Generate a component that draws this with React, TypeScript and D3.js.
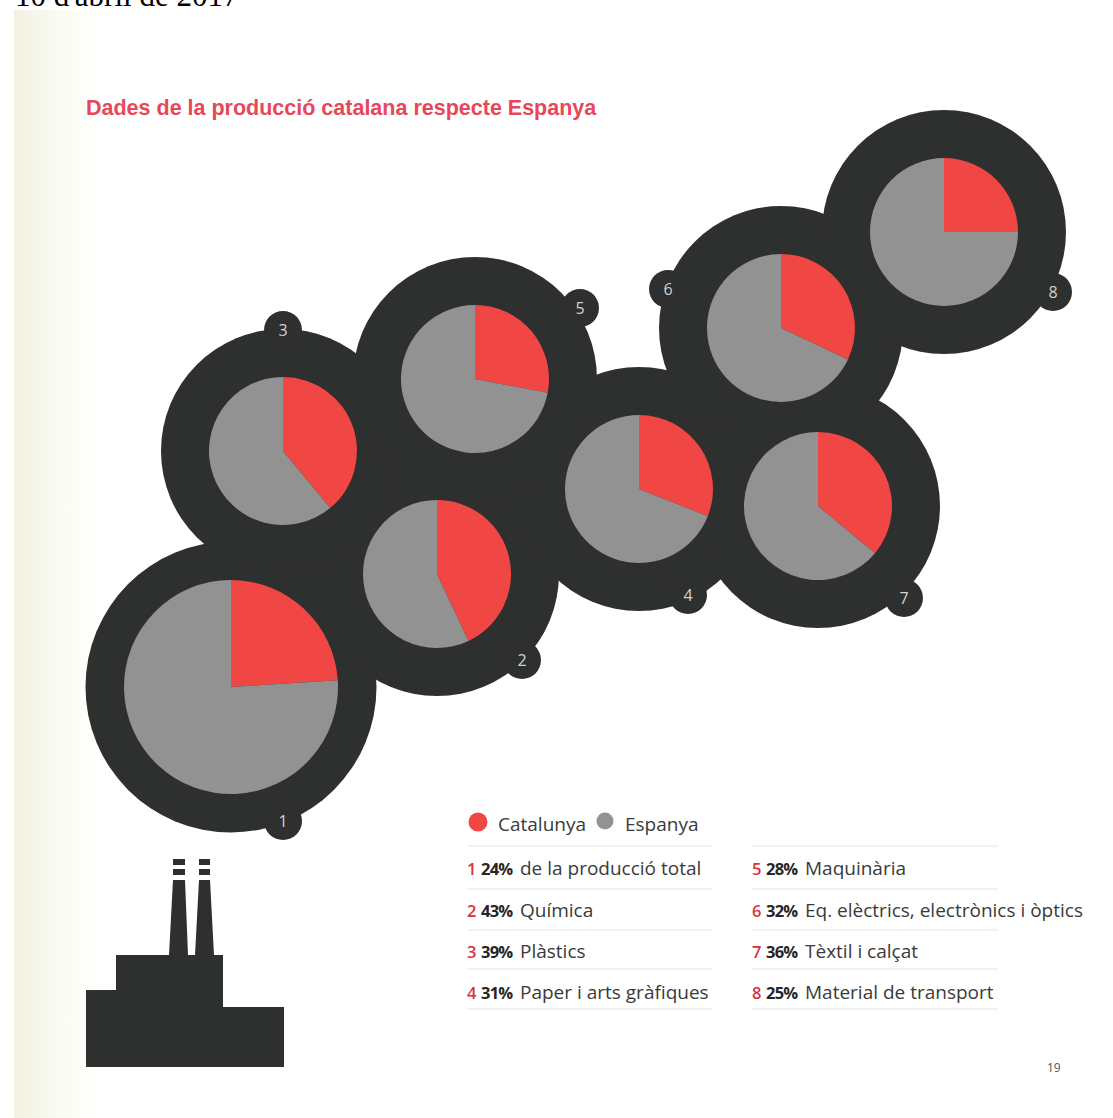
import React from "react";
import * as d3 from "d3";

// Sector shares for Catalonia, in legend order
const sectorIds = [1, 2, 3, 4, 5, 6, 7, 8];
const sectorNames = [
  "de la producció total",
  "Química",
  "Plàstics",
  "Paper i arts gràfiques",
  "Maquinària",
  "Eq. elèctrics, electrònics i òptics",
  "Tèxtil i calçat",
  "Material de transport",
];
const catalunyaShare = [24, 43, 39, 31, 28, 32, 36, 25];
const legendNames = ["Catalunya", "Espanya"];

// Bubble layout: pie centres and number badges
const pieCentres: [number, number][] = [
  [231, 687], [437, 574], [283, 451], [639, 489],
  [475, 379], [781, 328], [818, 506], [944, 232],
];
const badgeCentres: [number, number][] = [
  [283, 821], [522, 660], [283, 330], [688, 595],
  [580, 308], [668, 289], [904, 598], [1053, 292],
];

const RED = "#f04644";
const GREY = "#929292";
const DARK = "#2e2f2f";
const BODY_FONT = "'Open Sans', 'Noto Sans', sans-serif";

const factoryOutline: [number, number][] = [
  [86, 1067], [86, 990], [116, 990], [116, 955], [169, 955], [173, 880], [185, 880], [188, 955],
  [195, 955], [199, 880], [210, 880], [214, 955], [223, 955], [223, 1007], [284, 1007], [284, 1067],
];
const chimneyBands: [number, number, number][] = [
  [173, 12, 859], [199, 11, 859], [173, 12, 869], [199, 11, 869],
];

const pie = d3.pie<number>().sort(null).value((d) => d);

function ShareBubble({ index }: { index: number }) {
  const [cx, cy] = pieCentres[index];
  const [bx, by] = badgeCentres[index];
  const pieR = index === 0 ? 107 : 74;
  const arc = d3.arc<d3.PieArcDatum<number>>().innerRadius(0).outerRadius(pieR);
  const share = catalunyaShare[index];
  const slices = pie([share, 100 - share]);
  return (
    <g transform={`translate(${cx},${cy})`}>
      <path d={arc(slices[0]) ?? ""} fill={RED} />
      <path d={arc(slices[1]) ?? ""} fill={GREY} />
      <text x={bx - cx} y={by - cy + 6} textAnchor="middle" fontFamily={BODY_FONT} fontSize={16} fill="#d2d2d2">
        {sectorIds[index]}
      </text>
    </g>
  );
}

export default function App() {
  const rowBaselines = [875, 917, 958, 999];
  const ruleYs = [846, 889, 930, 969, 1009];
  const columns = [
    { x0: 467, x1: 712 },
    { x0: 752, x1: 998 },
  ];
  return (
    <svg
      width={1113}
      height={1118}
      viewBox="0 0 1113 1118"
      style={{ position: "absolute", left: 0, top: 0, display: "block" }}
    >
      <defs>
        <linearGradient id="spine" x1="0" x2="1" y1="0" y2="0">
          <stop offset="0" stopColor="#f1f2e2" />
          <stop offset="0.35" stopColor="#f8f9ee" />
          <stop offset="0.7" stopColor="#fdfdf8" />
          <stop offset="1" stopColor="#ffffff" />
        </linearGradient>
      </defs>
      <rect width={1113} height={1118} fill="#ffffff" />
      <rect x={14} y={10} width={90} height={1108} fill="url(#spine)" />
      <text x={15} y={6} fontFamily="'Liberation Serif', serif" fontSize={31} fill="#000">
        10 d'abril de 2017
      </text>
      <text
        x={86}
        y={115}
        fontFamily="'Liberation Sans', sans-serif"
        fontWeight={700}
        fontSize={21.5}
        fill="#e8475a"
      >
        Dades de la producció catalana respecte Espanya
      </text>

      {/* Dark backing discs are drawn first so they merge into one silhouette */}
      <g fill={DARK}>
        {pieCentres.map(([x, y], i) => (
          <circle key={i} cx={x} cy={y} r={i === 0 ? 145.5 : 122} />
        ))}
        {badgeCentres.map(([x, y], i) => (
          <circle key={i} cx={x} cy={y} r={19} />
        ))}
      </g>
      {sectorIds.map((_, i) => (
        <ShareBubble key={i} index={i} />
      ))}

      {/* Factory silhouette */}
      <path d={`M${factoryOutline.map((p) => p.join(",")).join("L")}Z`} fill={DARK} />
      {chimneyBands.map(([x, w, y], i) => (
        <rect key={i} x={x} y={y} width={w} height={6} fill={DARK} />
      ))}

      {/* Legend */}
      <circle cx={478} cy={822} r={9.5} fill={RED} />
      <text x={498} y={831} fontFamily={BODY_FONT} fontSize={19} fill="#3a3a3a">{legendNames[0]}</text>
      <circle cx={605} cy={821} r={8.5} fill={GREY} />
      <text x={625} y={831} fontFamily={BODY_FONT} fontSize={19} fill="#3a3a3a">{legendNames[1]}</text>

      {columns.map((c, k) => (
        <g key={k}>
          {ruleYs.map((y) => (
            <line key={y} x1={c.x0} x2={c.x1} y1={y} y2={y} stroke="#e6e6e2" strokeWidth={1} />
          ))}
        </g>
      ))}
      {sectorIds.map((id, i) => {
        const col = i < 4 ? 0 : 1;
        const y = rowBaselines[i % 4];
        const x = columns[col].x0;
        return (
          <text key={id} x={x} y={y} fontFamily={BODY_FONT} fill="#3a3a3a">
            <tspan fill="#d8323f" fontWeight={600} fontSize={16.5}>{id}</tspan>
            <tspan x={x + 14} fontWeight={700} fontSize={16.5} letterSpacing={-0.8} fill="#262626">{catalunyaShare[i]}%</tspan>
            <tspan x={x + 53} fontSize={19}>{sectorNames[i]}</tspan>
          </text>
        );
      })}
      <text x={1047} y={1072} fontFamily={BODY_FONT} fontSize={12} fill="#555">19</text>
    </svg>
  );
}
